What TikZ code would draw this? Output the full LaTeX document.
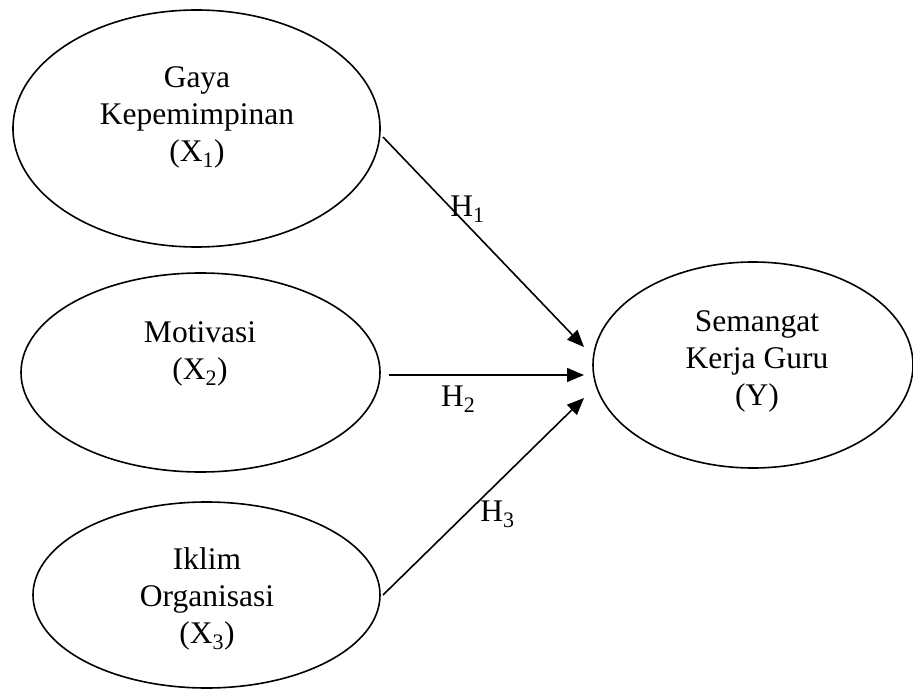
\documentclass[tikz,border=0pt]{standalone}
\usepackage{fontspec}
\setmainfont{Liberation Serif}
\usetikzlibrary{shapes.geometric,arrows.meta}
\begin{document}
\begin{tikzpicture}[x=1pt,y=-1pt,
  latent/.style={draw,ellipse,inner sep=0pt,line width=1.6pt},
  lbl/.style={align=center,inner sep=0pt,font=\fontsize{31.5}{37}\selectfont},
  hyp/.style={inner sep=0pt,anchor=base,font=\fontsize{31.5}{37}\selectfont},
  conn/.style={line width=1.6pt,-{Triangle[length=17pt,width=14pt]}}]
\useasboundingbox (0,0) rectangle (913,690);
% ellipses
\node[latent,minimum width=367pt,minimum height=237pt] (e1) at (196.5,128.5) {};
\node[latent,minimum width=359pt,minimum height=199pt] (e2) at (200.5,372.5) {};
\node[latent,minimum width=347pt,minimum height=186pt] (e3) at (206.5,595) {};
\node[latent,minimum width=320pt,minimum height=206pt] (ey) at (753,365) {};
% texts
\node[lbl] (t1txt) at (197,117.5) {Gaya\\Kepemimpinan\\(X\textsubscript{1})};
\node[lbl] (t2txt) at (200,354) {Motivasi\\(X\textsubscript{2})};
\node[lbl] (t3txt) at (207,598.5) {Iklim\\Organisasi\\(X\textsubscript{3})};
\node[lbl] (tytxt) at (757,361) {Semangat\\Kerja Guru\\(Y)};
% connector ends
\coordinate (s1) at (383,137);
\coordinate (s2) at (389,375);
\coordinate (s3) at (383,595);
\coordinate (a1) at (584,347);
\coordinate (a2) at (584,375);
\coordinate (a3) at (584,398);
\draw[conn] (s1) -- (a1);
\draw[conn] (s2) -- (a2);
\draw[conn] (s3) -- (a3);
% hypothesis labels
\node[hyp] (h1) at (467.5,216.7) {H\textsubscript{1}};
\node[hyp] (h2) at (458.3,406.7) {H\textsubscript{2}};
\node[hyp] (h3) at (497.5,521.7) {H\textsubscript{3}};
\end{tikzpicture}
\end{document}
